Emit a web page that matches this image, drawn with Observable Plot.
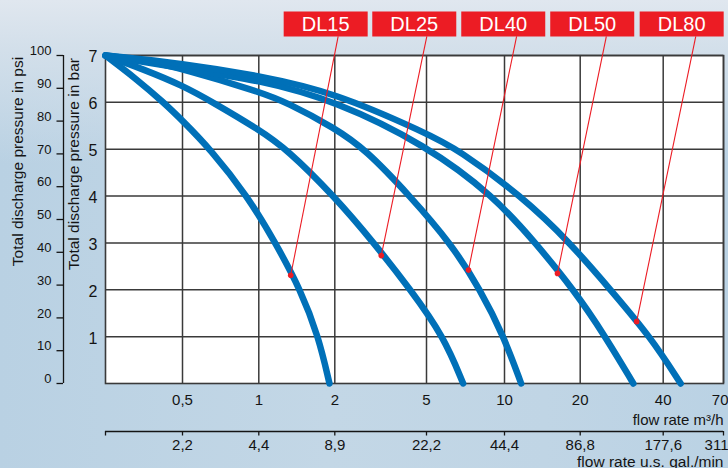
<!DOCTYPE html>
<html><head><meta charset="utf-8">
<script src="https://cdn.jsdelivr.net/npm/d3@7"></script>
<script src="https://cdn.jsdelivr.net/npm/@observablehq/plot@0.6"></script>
<style>
html,body{margin:0;padding:0;}
body{width:728px;height:468px;overflow:hidden;
background:
 linear-gradient(180deg, rgba(224,231,239,1) 0%, rgba(214,225,235,0.9) 10%, rgba(200,217,231,0) 35%),
 linear-gradient(90deg,#b9d1e3 0%,#c3d7e6 45%,#c0d5e5 75%,#bad2e4 100%);}
#chart svg{display:block;}
</style></head><body><div id="chart"></div>
<script>
// ---- data ----
const models = ["DL15", "DL25", "DL40", "DL50", "DL80"];
const xTicks = [0.5, 1, 2, 5, 10, 20, 40, 70];                 // flow rate m3/h
const xTickLabels = ["0,5", "1", "2", "5", "10", "20", "40", "70"];
const galTickLabels = ["2,2", "4,4", "8,9", "22,2", "44,4", "86,8", "177,6", "311"]; // u.s. gal./min
const barTicks = [1, 2, 3, 4, 5, 6, 7];
const psiTicks = [0, 10, 20, 30, 40, 50, 60, 70, 80, 90, 100];

const dl15Flow = [0, 0.2, 0.377, 0.5, 0.683, 0.926, 1.22, 1.55, 1.786, 1.93];
const dl15Bar  = [7, 6.5, 6, 5.61, 5, 4, 3, 2, 1, 0];
const dl25Flow = [0, 0.25, 0.5, 0.7, 1, 1.37, 1.99, 3.28, 4.48, 6.11, 7.35];
const dl25Bar  = [7, 6.7, 6.36, 6, 5.42, 5, 4, 3, 2, 1, 0];
const dl40Flow = [0, 0.25, 0.5, 1, 1.37, 2, 3.0, 4.46, 6.54, 8.46, 9.96, 12.2];
const dl40Bar  = [7, 6.9, 6.72, 6.23, 6, 5.45, 5, 4, 3, 2, 1, 0];
const dl50Flow = [0, 0.5, 1, 2, 5, 9.31, 14.1, 19.15, 26.1, 32.8];
const dl50Bar  = [7, 6.72, 6.48, 6.04, 5.08, 4, 3, 2, 1, 0];
const dl80Flow = [0, 0.5, 1, 2, 5, 7.0, 12.25, 18.7, 27.3, 36.9, 48.7];
const dl80Bar  = [7, 6.83, 6.57, 6.21, 5.34, 5, 4, 3, 2, 1, 0];

// label annotations (flow m3/h, pressure bar)
const boxFlow = [1.88, 4.60, 9.92, 22.9, 49.2];
const boxBar = [7.67, 7.67, 7.67, 7.67, 7.67];
const leaderTopFlow = [2.11, 5.02, 11.6, 26.3, 56.2];
const leaderTopBar = [7.41, 7.41, 7.41, 7.41, 7.41];
const dotFlow = [1.42, 3.52, 7.69, 17.0, 33.6];
const dotBar = [2.31, 2.73, 2.42, 2.35, 1.32];

// ---- build tables ----
const series = [[dl15Flow, dl15Bar], [dl25Flow, dl25Bar], [dl40Flow, dl40Bar], [dl50Flow, dl50Bar], [dl80Flow, dl80Bar]];
const rows = series.flatMap(([f, b], k) => f.map((v, i) => ({model: models[k], flow: v, bar: b[i]})));
const labels = models.map((m, i) => ({
  name: m, cx: boxFlow[i], cy: boxBar[i],
  x1: leaderTopFlow[i], y1: leaderTopBar[i], x2: dotFlow[i], y2: dotBar[i]
}));
const scaleBreaks = [0, ...xTicks];
const lastTick = xTicks[xTicks.length - 1];
const boxSymbol = {draw(ctx) { ctx.moveTo(-42, -12.5); ctx.lineTo(42, -12.5); ctx.lineTo(42, 12.5); ctx.lineTo(-42, 12.5); ctx.closePath(); }};

const red = "#ec1c24", blue = "#0070b8", grid = "#3a3a3a", ink = "#141414";

const chart = Plot.plot({
  width: 728, height: 468,
  marginLeft: 105, marginRight: 5, marginTop: 55, marginBottom: 85,
  x: {type: "linear", domain: scaleBreaks, range: [105, 182, 258.3, 334.3, 426, 504, 579.7, 662.7, 723]},
  y: {domain: [0, 7], range: [383, 55]},
  style: {background: "transparent", fontFamily: "'Liberation Sans', Arial, sans-serif", color: ink},
  marks: [
    Plot.frame({fill: "white", stroke: null}),
    Plot.ruleX(xTicks, {stroke: grid, strokeWidth: 1.5}),
    Plot.ruleY(barTicks, {stroke: grid, strokeWidth: 1.5}),
    Plot.frame({stroke: grid, strokeWidth: 1.6}),
    Plot.line(rows, {x: "flow", y: "bar", z: "model", stroke: blue, strokeWidth: 6.5, curve: "basis", strokeLinecap: "round", strokeLinejoin: "round"}),
    Plot.link(labels, {x1: "x1", y1: "y1", x2: "x2", y2: "y2", stroke: red, strokeWidth: 1.1}),
    Plot.dot(labels, {x: "x2", y: "y2", r: 2.8, fill: red, stroke: null}),
    Plot.dot(labels, {x: "cx", y: "cy", r: 1, symbol: boxSymbol, fill: red, stroke: null}),
    Plot.text(labels, {x: "cx", y: "cy", text: "name", fill: "white", fontSize: 20}),
    // bar axis
    Plot.axisY(barTicks, {anchor: "left", tickSize: 0, tickPadding: 8, fontSize: 16, dy: 1.8, label: null}),
    // psi axis
    Plot.ruleX([0], {y1: 0, y2: 7, dx: -42, stroke: ink, strokeWidth: 1.3}),
    Plot.axisY(psiTicks.map(p => p * 7 / 100), {anchor: "left", tickSize: 6.5, dx: -42, tickFormat: () => "", label: null, strokeWidth: 1.3}),
    Plot.text(psiTicks, {y: d => d * 7 / 100, frameAnchor: "left", dx: -54, dy: -4.5, textAnchor: "end", text: d => String(d), fontSize: 13}),
    Plot.text(["Total discharge pressure in psi"], {frameAnchor: "left", textAnchor: "middle", rotate: -90, dx: -87.5, dy: -58, fontSize: 15.5}),
    Plot.text(["Total discharge pressure in bar"], {frameAnchor: "left", textAnchor: "middle", rotate: -90, dx: -31, dy: -55.5, fontSize: 15.5}),
    // flow axis (m3/h)
    Plot.text(xTicks.slice(0, -1), {x: d => d, frameAnchor: "bottom", lineAnchor: "top", dy: 11, text: d => xTickLabels[xTicks.indexOf(d)], fontSize: 15}),
    Plot.text([lastTick], {x: d => d, frameAnchor: "bottom", lineAnchor: "top", textAnchor: "end", dx: 5, dy: 11, text: d => xTickLabels[xTicks.indexOf(d)], fontSize: 15}),
    Plot.text(["flow rate m³/h"], {frameAnchor: "bottom-right", textAnchor: "end", lineAnchor: "bottom", dy: 41, fontSize: 15}),
    // flow axis (u.s. gal./min)
    Plot.ruleY([0], {dy: 48, stroke: ink, strokeWidth: 1.5}),
    Plot.axisX(scaleBreaks, {anchor: "bottom", tickSize: 4.5, dy: 48, tickFormat: () => "", label: null, strokeWidth: 1.3}),
    Plot.text(xTicks.slice(0, -1), {x: d => d, frameAnchor: "bottom", lineAnchor: "top", dy: 56, text: d => galTickLabels[xTicks.indexOf(d)], fontSize: 15}),
    Plot.text([lastTick], {x: d => d, frameAnchor: "bottom", lineAnchor: "top", textAnchor: "end", dx: 5, dy: 56, text: d => galTickLabels[xTicks.indexOf(d)], fontSize: 15}),
    Plot.text(["flow rate u.s. gal./min"], {frameAnchor: "bottom-right", textAnchor: "end", lineAnchor: "bottom", dy: 83, fontSize: 15.5})
  ]
});
document.getElementById("chart").append(chart);
</script></body></html>
